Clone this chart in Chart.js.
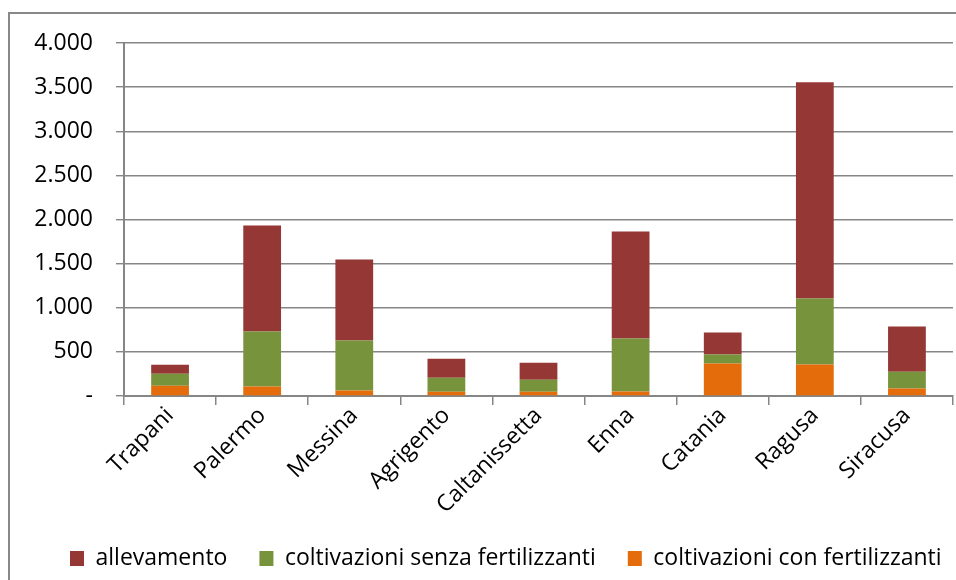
<!DOCTYPE html>
<html>
<head>
<meta charset="utf-8">
<script src="https://cdn.jsdelivr.net/npm/chart.js@4/dist/chart.umd.min.js"></script>
<style>
    html, body { margin: 0; padding: 0; background: #fff; overflow: hidden; }
    #wrap { position: relative; width: 956px; height: 580px; }
    #frame { position: absolute; left: 8px; top: 12px; width: 1000px; height: 1000px; border: 2px solid #888; box-sizing: border-box; }
    canvas { position: absolute; left: 0; top: 0; }
</style>
</head>
<body>
<div id="wrap">
    <div id="frame"></div>
    <canvas id="chart" width="956" height="580"></canvas>
</div>
<script>
// Province (asse x)
const province = ['Trapani', 'Palermo', 'Messina', 'Agrigento', 'Caltanissetta', 'Enna', 'Catania', 'Ragusa', 'Siracusa'];

// Valori delle serie
const conFertilizzanti = [117, 108, 62, 49, 49, 50, 367, 356, 86];
const senzaFertilizzanti = [136, 622, 566, 159, 136, 601, 102, 750, 190];
const allevamento = [102, 1203, 919, 215, 193, 1214, 250, 2450, 511];

// Etichette dell'asse y (0, 500, ... 4000)
const yTickLabels = ['-', '500', '1.000', '1.500', '2.000', '2.500', '3.000', '3.500', '4.000'];

const FONT = 'Open Sans';
const GRIGIO = '#868686';
const LEGEND_X = 70; // dove inizia la legenda

// la legenda parte da sinistra come nell'originale (senza andare a capo)
const legendShift = {
    id: 'legendShift',
    afterLayout(chart) {
        const lg = chart.legend;
        const pad = lg.options.labels.padding;
        lg.right = 2000;
        lg.left = 2 * LEGEND_X - pad - lg.right + lg.lineWidths[0];
    }
};

document.addEventListener("DOMContentLoaded", () => {
    const ctx = document.getElementById('chart').getContext('2d');

    new Chart(ctx, {
        type: 'bar',
        data: {
            labels: province,
            datasets: [
                { label: 'coltivazioni con fertilizzanti', data: conFertilizzanti, backgroundColor: '#E46C0A' },
                { label: 'coltivazioni senza fertilizzanti', data: senzaFertilizzanti, backgroundColor: '#77933C' },
                { label: 'allevamento', data: allevamento, backgroundColor: '#953735' }
            ]
        },
        plugins: [legendShift],
        options: {
            responsive: false,
            animation: false,
            layout: { padding: { left: 0, right: 3, top: 43, bottom: 0 } },
            datasets: {
                bar: { barPercentage: 0.41, categoryPercentage: 1 }
            },
            plugins: {
                tooltip: { enabled: false },
                legend: {
                    position: 'bottom',
                    reverse: true,
                    labels: {
                        font: { family: FONT, size: 23 },
                        color: '#000',
                        boxWidth: 14,
                        boxHeight: 15,
                        padding: 32
                    }
                }
            },
            scales: {
                x: {
                    stacked: true,
                    grid: { drawOnChartArea: false, drawTicks: true, tickLength: 9, color: GRIGIO, lineWidth: 1.5 },
                    border: { color: GRIGIO, width: 2 },
                    ticks: {
                        font: { family: FONT, size: 23 },
                        color: '#000',
                        maxRotation: 45,
                        minRotation: 45,
                        padding: -3
                    },
                    afterFit: scale => { scale.height = 119; }
                },
                y: {
                    stacked: true,
                    min: 0,
                    max: 4000,
                    grid: { color: GRIGIO, lineWidth: 1.4, tickLength: 8 },
                    border: { color: GRIGIO, width: 2 },
                    ticks: {
                        stepSize: 500,
                        font: { family: FONT, size: 23 },
                        color: '#000',
                        padding: 23,
                        callback: (value, index) => yTickLabels[index]
                    },
                    afterFit: scale => { scale.width = 124; }
                }
            }
        }
    });
});
</script>
</body>
</html>
